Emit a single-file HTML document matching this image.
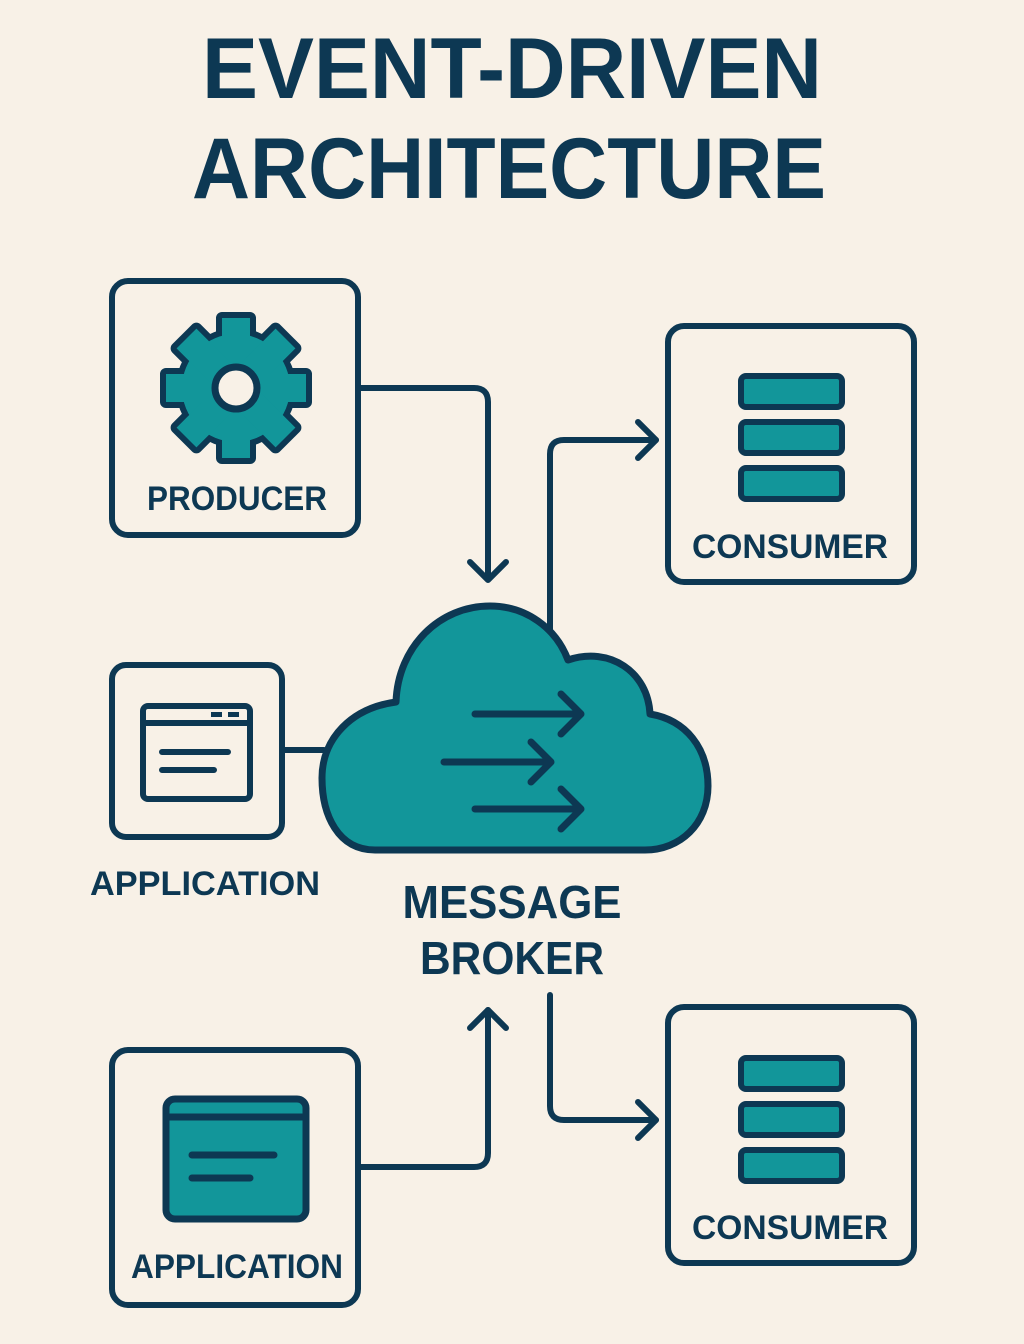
<!DOCTYPE html>
<html><head><meta charset="utf-8"><style>
html,body{margin:0;padding:0;background:#f8f1e7;}
svg{display:block}
text{font-family:"Liberation Sans",sans-serif;font-weight:bold;fill:#0d3853}
</style></head><body>
<svg width="1024" height="1344" viewBox="0 0 1024 1344" xmlns="http://www.w3.org/2000/svg">
<rect width="1024" height="1344" fill="#f8f1e7"/>
<text x="512" y="98" font-size="86" text-anchor="middle" textLength="620" lengthAdjust="spacingAndGlyphs">EVENT-DRIVEN</text>
<text x="509" y="198" font-size="86" text-anchor="middle" textLength="634" lengthAdjust="spacingAndGlyphs">ARCHITECTURE</text>

<g fill="none" stroke="#0d3853" stroke-width="6" stroke-linecap="round" stroke-linejoin="round">
<!-- connectors -->
<path d="M358 388 H474 Q488 388 488 402 V578"/>
<path d="M470 562 L488 580 L506 562"/>
<path d="M550 630 V454 Q550 440 564 440 H656"/>
<path d="M638 422 L656 440 L638 458"/>
<path d="M282 750 H324"/>
<path d="M358 1167 H474 Q488 1167 488 1153 V1010"/>
<path d="M470 1028 L488 1010 L506 1028"/>
<path d="M550 995 V1106 Q550 1120 564 1120 H656"/>
<path d="M638 1102 L656 1120 L638 1138"/>
</g>

<g fill="none" stroke="#0d3853" stroke-width="6">
<rect x="112" y="281" width="246" height="254" rx="16"/>
<rect x="668" y="326" width="246" height="256" rx="16"/>
<rect x="112" y="665" width="170" height="172" rx="14"/>
<rect x="112" y="1050" width="246" height="255" rx="16"/>
<rect x="668" y="1007" width="246" height="256" rx="16"/>
</g>

<!-- gear -->
<g transform="translate(236,388)">
<g stroke="#0d3853" stroke-width="12" stroke-linejoin="round" fill="#0d3853">
<circle r="54"/>
<rect x="-14" y="-70" width="28" height="140"/>
<rect x="-14" y="-70" width="28" height="140" transform="rotate(45)"/>
<rect x="-14" y="-70" width="28" height="140" transform="rotate(90)"/>
<rect x="-14" y="-70" width="28" height="140" transform="rotate(135)"/>
</g>
<g fill="#12969a">
<circle r="54"/>
<rect x="-14" y="-70" width="28" height="140"/>
<rect x="-14" y="-70" width="28" height="140" transform="rotate(45)"/>
<rect x="-14" y="-70" width="28" height="140" transform="rotate(90)"/>
<rect x="-14" y="-70" width="28" height="140" transform="rotate(135)"/>
</g>
<circle r="21" fill="#f8f1e7" stroke="#0d3853" stroke-width="7"/>
</g>

<!-- consumer bars -->
<g fill="#12969a" stroke="#0d3853" stroke-width="6">
<rect x="741" y="376" width="101" height="31" rx="5"/>
<rect x="741" y="422" width="101" height="31" rx="5"/>
<rect x="741" y="468" width="101" height="31" rx="5"/>
<rect x="741" y="1058" width="101" height="31" rx="5"/>
<rect x="741" y="1104" width="101" height="31" rx="5"/>
<rect x="741" y="1150" width="101" height="31" rx="5"/>
</g>

<!-- app1 icon -->
<g fill="none" stroke="#0d3853" stroke-width="6" stroke-linecap="round">
<rect x="143" y="706" width="107" height="93" rx="5" fill="#f8f1e7"/>
<path d="M143 723 H250"/>
<path d="M162 752 H228 M162 770 H214"/>
</g>
<rect x="211" y="712" width="11" height="5" fill="#0d3853"/>
<rect x="228" y="712" width="11" height="5" fill="#0d3853"/>

<!-- app2 icon -->
<g stroke="#0d3853" stroke-width="7" stroke-linecap="round">
<rect x="166" y="1099" width="140" height="120" rx="9" fill="#12969a"/>
<path d="M166 1117 H306" fill="none"/>
<path d="M192 1155 H274 M192 1178 H250" fill="none"/>
</g>

<!-- cloud -->
<path d="M375 850 C338 850 322 815 322 778 C322 738 352 708 396 702 C398 646 440 606 490 606 C526 606 556 628 568 660 C610 646 648 672 650 714 C686 720 708 748 708 786 C708 824 680 850 645 850 Z" fill="#12969a" stroke="#0d3853" stroke-width="7" stroke-linejoin="round"/>
<g fill="none" stroke="#0d3853" stroke-width="7" stroke-linecap="round" stroke-linejoin="round">
<path d="M475 714 H581 M561 694 L581 714 L561 734"/>
<path d="M444 762 H551 M531 742 L551 762 L531 782"/>
<path d="M475 809 H581 M561 789 L581 809 L561 829"/>
</g>

<text x="237" y="510" font-size="34" text-anchor="middle" textLength="180" lengthAdjust="spacingAndGlyphs">PRODUCER</text>
<text x="790" y="558" font-size="34" text-anchor="middle" textLength="196" lengthAdjust="spacingAndGlyphs">CONSUMER</text>
<text x="205" y="895" font-size="34" text-anchor="middle" textLength="230" lengthAdjust="spacingAndGlyphs">APPLICATION</text>
<text x="512" y="918" font-size="46" text-anchor="middle" textLength="219" lengthAdjust="spacingAndGlyphs">MESSAGE</text>
<text x="512" y="974" font-size="46" text-anchor="middle" textLength="184" lengthAdjust="spacingAndGlyphs">BROKER</text>
<text x="237" y="1278" font-size="34" text-anchor="middle" textLength="212" lengthAdjust="spacingAndGlyphs">APPLICATION</text>
<text x="790" y="1239" font-size="34" text-anchor="middle" textLength="196" lengthAdjust="spacingAndGlyphs">CONSUMER</text>
</svg>
</body></html>
